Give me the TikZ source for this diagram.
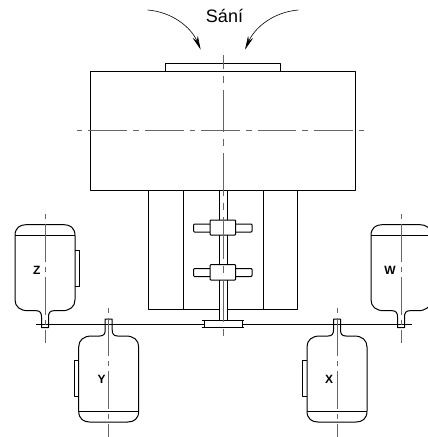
\documentclass[tikz,border=0pt]{standalone}
\usepackage{fontspec}
\setmainfont{Liberation Sans}
\usetikzlibrary{arrows.meta}
\tikzset{
  outline/.style={draw=black, line width=1pt, line join=round},
  axisLine/.style={draw=black!60, line width=0.9pt},
  mainAxis/.style={axisLine, dash pattern=on 5.7pt off 6pt on 38.7pt off 6pt},
  shaftAxis/.style={axisLine, dash pattern=on 7pt off 7pt on 42.3pt off 7pt, dash phase=42.3pt},
  motorAxis/.style={axisLine, dash pattern=on 5pt off 5pt on 38pt off 5pt},
  flowArrow/.style={draw=black, line width=0.6pt, -{Stealth[length=14pt,width=5.5pt]}},
  motorLabel/.style={draw=none, font=\fontsize{12}{12}\selectfont\bfseries},
  motorBody/.pic={
    \draw[outline, fill=white] (-30,11) .. controls (-30,3) and (-25,0) .. (-19,0) -- (19,0) .. controls (25,0) and (30,3) .. (30,11)
      -- (30,75) .. controls (30,82) and (25,86) .. (17,86) -- (9,86) .. controls (5,86) and (3.5,88) .. (3.5,92)
      -- (3.5,103) -- (-3.5,103) -- (-3.5,92) .. controls (-3.5,88) and (-5,86) .. (-9,86) -- (-17,86)
      .. controls (-25,86) and (-30,82) .. (-30,75) -- cycle;
    \draw[outline] (-30,10.5) -- (30,10.5);
  },
  terminalBox/.pic={
    \draw[outline] (30,26) -- (34.5,26) -- (34.5,62) -- (30,62);
  }
}
\begin{document}
\begin{tikzpicture}[x=1pt, y=-1pt]
\clip (0,0) rectangle (428,437);
%%%%%%%%%%%%%%% Pump casing
\draw[outline] (148.5,190) rectangle (297.5,309);
\draw[outline] (183,190) -- (183,309);
\draw[outline] (263,190) -- (263,309);
\draw[outline] (90.7,71) rectangle (355,190);
\draw[outline] (165.7,71) -- (165.7,63.5) -- (280,63.5) -- (280,71);
%%%%%%%%%%%%%%% Motors
\pic at (45,224.7) {motorBody};
\pic at (45,224.7) {terminalBox};
\pic at (401,224.7) {motorBody};
\pic[rotate=180] at (108.7,422) {motorBody};
\pic[rotate=180] at (108.7,422) {terminalBox};
\pic[rotate=180] at (337,422) {motorBody};
\pic[rotate=180] at (337,422) {terminalBox};
%%%%%%%%%%%%%%% Belt
\draw[outline] (36,324) -- (412,324);
%%%%%%%%%%%%%%% Shaft and couplings
\draw[outline, fill=white] (219,190) rectangle (227.5,320);
\draw[outline, fill=white, rounded corners=0.8pt] (193.7,224) rectangle (252,232);
\draw[outline, fill=white, rounded corners=0.8pt] (210,220) rectangle (235.7,235);
\draw[outline, fill=white, rounded corners=0.8pt] (193.7,268.5) rectangle (252,276.5);
\draw[outline, fill=white, rounded corners=0.8pt] (210,264.7) rectangle (235.7,280);
%%%%%%%%%%%%%%% Pulley
\draw[outline, fill=white] (204,320) rectangle (242.3,327.7);
\draw[outline] (201.7,320) -- (244.3,320);
\draw[outline] (201.7,327.7) -- (244.3,327.7);
%%%%%%%%%%%%%%% Centre lines
\draw[shaftAxis] (223,55) -- (223,339);
\draw[mainAxis] (76.7,130) -- (366,130);
\draw[motorAxis] (45,214) -- (45,343);
\draw[motorAxis] (401,214) -- (401,343);
\draw[motorAxis] (108.7,308) -- (108.7,437);
\draw[motorAxis] (337,308) -- (337,437);
%%%%%%%%%%%%%%% Labels and suction arrows
\node[draw=none, font=\fontsize{18}{18}\selectfont](labelSani) at (224.5,15.5){Sání};
\node[motorLabel](labelZ) at (36.7,270.3){Z};
\node[motorLabel](labelY) at (101.7,379){Y};
\node[motorLabel](labelW) at (390,270){W};
\node[motorLabel](labelX) at (329,379){X};
\coordinate (leftStart) at (147.7,10);
\coordinate (leftEnd) at (200.7,49.7);
\coordinate (rightStart) at (298.3,10);
\coordinate (rightEnd) at (245,49.7);
\draw[flowArrow] (leftStart) .. controls (172,12) and (191,27) .. (leftEnd);
\draw[flowArrow] (rightStart) .. controls (274,12) and (255,27) .. (rightEnd);
\end{tikzpicture}
\end{document}
